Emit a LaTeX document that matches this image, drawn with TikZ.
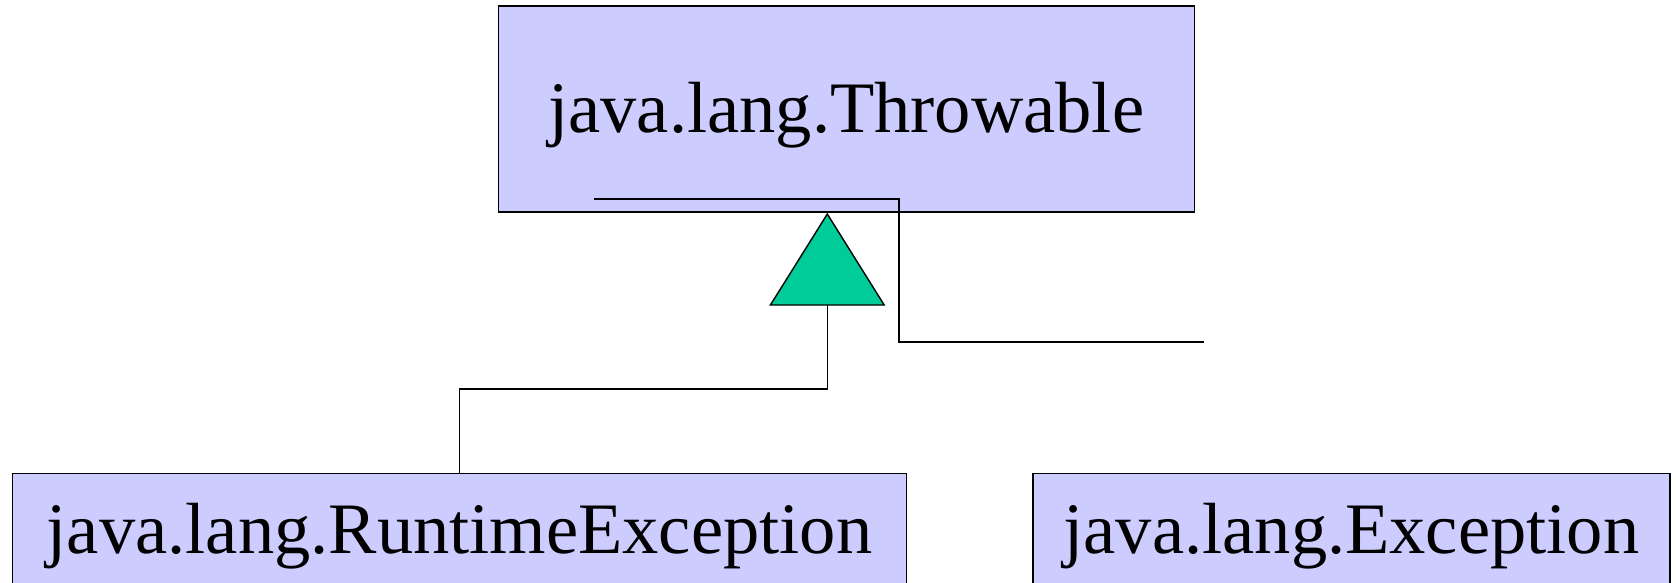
\documentclass[tikz,border=0pt]{standalone}
\usepackage{fontspec}
\setmainfont{Liberation Serif}
\usepackage{tikz}
\usetikzlibrary{arrows.meta, positioning, calc}
\definecolor{classfill}{RGB}{204, 204, 255}
\definecolor{genfill}{RGB}{0, 204, 153}

\begin{document}
\begin{tikzpicture}[
    x=1pt, y=-1pt,
    cls/.style={draw, fill=classfill, line width=1.4pt, minimum height=125pt, text height=50pt, text depth=16pt, font=\fontsize{72.5}{80}\selectfont},
    link/.style={line width=1.4pt},
    gen/.style={link, -{Triangle[length=93pt, width=116pt, fill=genfill]}}
]
    \clip (0,0) rectangle (1676,583);
    % Nodes
    \node[cls, minimum width=696pt, minimum height=206pt, text depth=2pt] (throwable) at (846.3,109) {java.lang.Throwable};
    \node[cls, minimum width=894pt] (runtime) at (459.5,536) {java.lang.RuntimeException};
    \node[cls, minimum width=637pt] (exception) at (1351.4,536) {java.lang.Exception};
    \coordinate (apex) at ([xshift=-19pt]throwable.south);
    \coordinate (exstart) at (594,199);
    \coordinate (exend) at (1204,342);

    % Arrows
    \draw[link] (exend) -- ++(-305,0) |- (exstart);
    \draw[gen] (runtime.north) -- ++(0,-84) -| (apex);
\end{tikzpicture}
\end{document}
